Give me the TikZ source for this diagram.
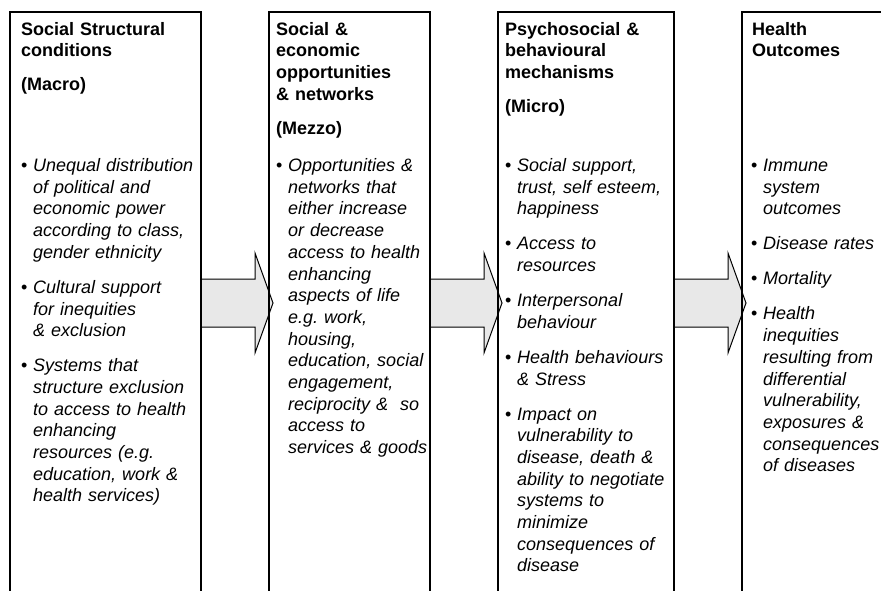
\documentclass[tikz,border=0pt]{standalone}
\usepackage{fontspec}
\setmainfont{Liberation Sans}
\usetikzlibrary{calc,backgrounds}
\definecolor{arrowgray}{RGB}{232,232,232}
\frenchspacing
\tikzset{
  colbox/.style={draw=black, line width=1.5pt, rectangle, inner sep=0pt,
    anchor=north west, minimum height=640pt},
  headtext/.style={inner sep=0pt, anchor=base west, text width=190pt,
    font=\fontsize{18}{21.7}\selectfont\bfseries},
  listtext/.style={inner sep=0pt, anchor=base west, text width=200pt,
    font=\fontsize{18}{21.7}\selectfont},
  fatfill/.style={fill=arrowgray},
  fatline/.style={draw=black, line width=1pt, line join=miter},
}
% one bulleted entry, continuation lines hang under the text
\newcommand\colitem[1]{\noindent\hangindent=12pt\hangafter=1%
  \makebox[12pt][l]{\textbullet}\textit{#1}\par}
\newcommand\itemgap{\vspace{13.3pt}}
% block arrow from the right side of one column to the left side of the next
\newcommand\fatarrow[2]{%
  \coordinate (#1-out) at (#1.east |- 0,303);
  \coordinate (#2-in) at (#2.west |- 0,303);
  \fill[fatfill] ($(#1-out)+(0,-24)$) -- ($(#2-in)+(-13,-24)$)
    -- ($(#2-in)+(-13,-50)$) -- ($(#2-in)+(5,0)$) -- ($(#2-in)+(-13,50)$)
    -- ($(#2-in)+(-13,24)$) -- ($(#1-out)+(0,24)$) -- cycle;
  \draw[fatline] ($(#1-out)+(0,-24)$) -- ($(#2-in)+(-13,-24)$)
    -- ($(#2-in)+(-13,-50)$) -- ($(#2-in)+(5,0)$) -- ($(#2-in)+(-13,50)$)
    -- ($(#2-in)+(-13,24)$) -- ($(#1-out)+(0,24)$);
}
\begin{document}
\begin{tikzpicture}[x=1pt,y=-1pt]
\useasboundingbox (0,0) rectangle (881,590);
\clip (0,0) rectangle (881,590);

% the four columns (open at the bottom of the page)
\node[colbox, minimum width=191pt] (c1) at (9,11) {};
\node[colbox, minimum width=161pt] (c2) at (268,11) {};
\node[colbox, minimum width=176pt] (c3) at (497,11) {};
\node[colbox, minimum width=200pt] (c4) at (741,11) {};

\begin{pgfonlayer}{background}
  \fill[white] (0,0) rectangle (881,590);
  \fatarrow{c1}{c2}
  \fatarrow{c2}{c3}
  \fatarrow{c3}{c4}
\end{pgfonlayer}

% column 1
\node[headtext] (h1) at (21,35) {Social Structural\newline conditions\par
  \vspace{12.3pt}(Macro)};
\node[listtext] (l1) at (21,171.5) {%
  \colitem{Unequal distribution\newline of political and\newline economic power\newline
    according to class,\newline gender ethnicity}\itemgap
  \colitem{Cultural support\newline for inequities\newline \& exclusion}\itemgap
  \colitem{Systems that\newline structure exclusion\newline to access to health\newline
    enhancing\newline resources (e.g.\newline education, work \&\newline health services)}};

% column 2
\node[headtext] (h2) at (276,35) {Social \&\newline economic\newline opportunities\newline
  \& networks\par\vspace{12.3pt}(Mezzo)};
\node[listtext] (l2) at (276,171.5) {%
  \colitem{Opportunities \&\newline networks that\newline either increase\newline
    or decrease\newline access to health\newline enhancing\newline aspects of life\newline
    e.g. work,\newline housing,\newline education, social\newline engagement,\newline
    reciprocity \& \ so\newline access to\newline services \& goods}};

% column 3
\node[headtext] (h3) at (505,35) {Psychosocial \&\newline behavioural\newline
  mechanisms\par\vspace{12.3pt}(Micro)};
\node[listtext] (l3) at (505,171.5) {%
  \colitem{Social support,\newline trust, self esteem,\newline happiness}\itemgap
  \colitem{Access to\newline resources}\itemgap
  \colitem{Interpersonal\newline behaviour}\itemgap
  \colitem{Health behaviours\newline \& Stress}\itemgap
  \colitem{Impact on\newline vulnerability to\newline disease, death \&\newline
    ability to negotiate\newline systems to\newline minimize\newline
    consequences of\newline disease}};

% column 4
\node[headtext] (h4) at (752,35) {Health\newline Outcomes};
\node[listtext] (l4) at (751,171.5) {%
  \colitem{Immune\newline system\newline outcomes}\itemgap
  \colitem{Disease rates}\itemgap
  \colitem{Mortality}\itemgap
  \colitem{Health\newline inequities\newline resulting from\newline differential\newline
    vulnerability,\newline exposures \&\newline consequences\newline of diseases}};
\end{tikzpicture}
\end{document}
